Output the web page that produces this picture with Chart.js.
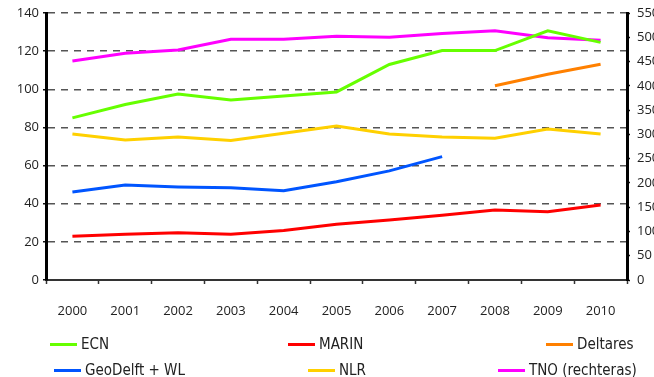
<!DOCTYPE html>
<html>
<head>
<meta charset="utf-8">
<script src="https://cdn.jsdelivr.net/npm/chart.js@4"></script>
<style>
  html, body { margin: 0; padding: 0; background: #fff; overflow: hidden; }
  #wrap { position: relative; width: 654px; height: 377px; overflow: hidden; }
  #myChart { position: absolute; left: 0; top: 0; }
  .item { position: absolute; display: flex; align-items: center; white-space: nowrap;
          font-family: "Liberation Sans Narrow", "DejaVu Sans Condensed", "Roboto", sans-serif;
          font-size: 15px; color: #222; }
  .item span.swatch { display: inline-block; width: 27px; height: 3px; margin-right: 4px; }
</style>
</head>
<body>
<div id="wrap">
  <canvas id="myChart" width="680" height="377"></canvas>
  <div id="legend"></div>
</div>
<script>
const years = ['2000', '2001', '2002', '2003', '2004', '2005', '2006', '2007', '2008', '2009', '2010'];

const ecn = [85, 92, 97.5, 94.4, 96.5, 98.6, 113, 120.3, 120.3, 130.7, 124.6];
const marin = [23, 24, 24.8, 24, 25.9, 29.2, 31.5, 33.9, 36.7, 35.8, 39.3];
const deltares = [null, null, null, null, null, null, null, null, 101.9, 107.9, 113.1];
const geoDelft = [46.1, 49.8, 48.8, 48.4, 46.8, 51.5, 57.2, 64.7, null, null, null];
const nlr = [76.6, 73.4, 75, 73.2, 77, 80.8, 76.6, 75, 74.3, 79.2, 76.6];
const tno = [451, 467, 474, 496, 496, 502, 500, 508, 513.5, 499, 494]; // right axis

const leftTicks = { min: 0, max: 140, step: 20 };
const rightTicks = { min: 0, max: 550, step: 50 };

const tickFont = { family: '"Open Sans", sans-serif', size: 13 };

const series = [
    { label: 'ECN', data: ecn, color: '#66ff00', axis: 'y' },
    { label: 'MARIN', data: marin, color: '#ff0000', axis: 'y' },
    { label: 'Deltares', data: deltares, color: '#ff8000', axis: 'y' },
    { label: 'GeoDelft + WL', data: geoDelft, color: '#0055ff', axis: 'y' },
    { label: 'NLR', data: nlr, color: '#ffd000', axis: 'y' },
    { label: 'TNO (rechteras)', data: tno, color: '#ff00ff', axis: 'y2' }
];

// where each legend entry sits below the chart
const legendSpots = [[50, 344], [288, 344], [546, 344], [54, 370], [308, 370], [498, 370]];

const ctx = document.getElementById('myChart');

const myChart = new Chart(ctx, {
    type: 'line',
    data: {
        labels: years,
        datasets: series.map(s => ({
            label: s.label,
            data: s.data,
            borderColor: s.color,
            backgroundColor: s.color,
            borderWidth: 3,
            pointRadius: 0,
            tension: 0,
            spanGaps: false,
            yAxisID: s.axis
        }))
    },
    options: {
        responsive: false,
        animation: false,
        layout: { padding: { top: 13, bottom: 57, left: 0, right: 0 } },
        plugins: {
            legend: { display: false },
            tooltip: { enabled: false }
        },
        scales: {
            x: {
                offset: true,
                grid: {
                    offset: true,
                    drawOnChartArea: false,
                    drawTicks: true,
                    tickLength: 4,
                    tickColor: '#333',
                    tickWidth: 1.5
                },
                border: { display: true, color: '#333', width: 2 },
                ticks: { color: '#222', font: tickFont, padding: 19, maxRotation: 0 },
                afterFit: (scale) => { scale.height = 40; }
            },
            y: {
                position: 'left',
                min: leftTicks.min,
                max: leftTicks.max,
                ticks: { stepSize: leftTicks.step, color: '#222', font: tickFont, padding: 4 },
                grid: {
                    color: '#555',
                    lineWidth: 1.5,
                    tickLength: 3,
                    tickColor: '#111',
                    tickWidth: 1.5
                },
                border: { display: true, color: '#000', width: 3, dash: [7, 6] },
                afterFit: (scale) => {
                    scale.width = 46;
                    scale.paddingTop = 0;
                    scale.paddingBottom = 0;
                }
            },
            y2: {
                position: 'right',
                min: rightTicks.min,
                max: rightTicks.max,
                ticks: { stepSize: rightTicks.step, color: '#222', font: tickFont, padding: 7 },
                grid: {
                    drawOnChartArea: false,
                    tickLength: 3,
                    tickColor: '#111',
                    tickWidth: 1.5
                },
                border: { display: true, color: '#000', width: 3 },
                afterFit: (scale) => {
                    scale.width = 53;
                    scale.paddingTop = 0;
                    scale.paddingBottom = 0;
                }
            }
        }
    }
});

// html legend built from the datasets
const legendBox = document.getElementById('legend');
myChart.data.datasets.forEach((ds, i) => {
    const item = document.createElement('div');
    item.className = 'item';
    item.style.left = legendSpots[i][0] + 'px';
    item.style.top = (legendSpots[i][1] - 10) + 'px';
    item.style.height = '20px';
    const sw = document.createElement('span');
    sw.className = 'swatch';
    sw.style.background = ds.borderColor;
    item.appendChild(sw);
    item.appendChild(document.createTextNode(ds.label));
    legendBox.appendChild(item);
});
</script>
</body>
</html>
